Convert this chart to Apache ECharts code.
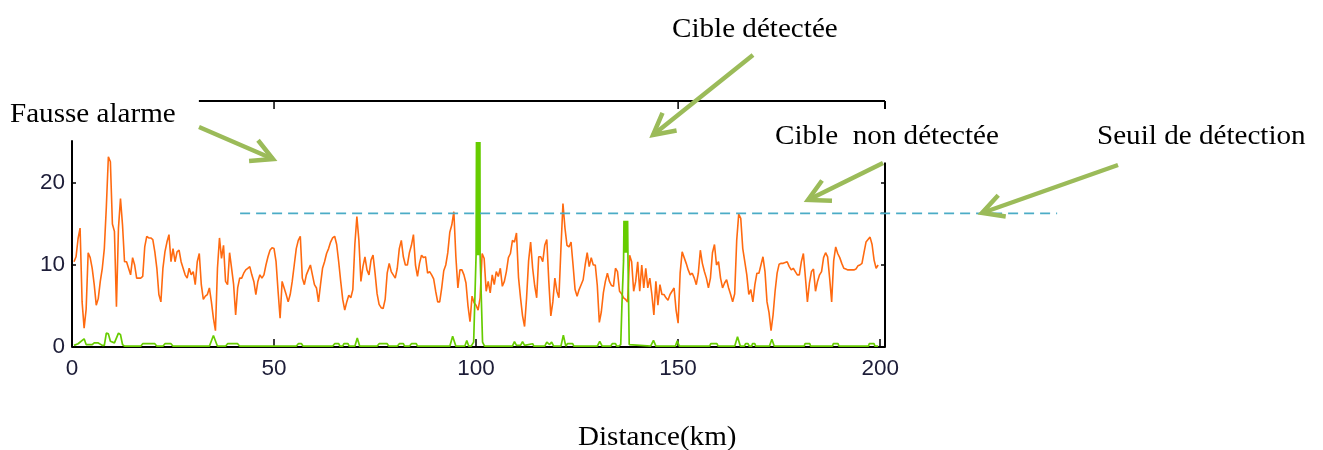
<!DOCTYPE html>
<html><head><meta charset="utf-8">
<script src="https://cdn.jsdelivr.net/npm/echarts@6/dist/echarts.min.js"></script>
<style>html,body{margin:0;padding:0;background:#fff}#c{width:1323px;height:450px}</style>
</head><body><div id="c"></div>
<script>
// ---- data (km, amplitude) ----
const STEP_KM = 0.5;
const sectionStartKm = [0.5, 33, 67, 100.5, 134, 168];
const signal0 = [10.4,11.0,13.2,14.5,5.5,2.3,4.6,11.5,10.9,9.6,7.6,5.1,5.9,8.0,9.6,12.0,17.1,23.2,22.6,15.0,14.1,4.9,14.5,18.1,14.9,10.4,10.4,9.6,8.8,10.9,10.0,8.4,8.4,8.4,8.6,12.2,13.5,13.3,13.3,13.1,11.6,9.6,6.4,5.5,9.6,11.6,12.8,13.7,10.4,12.0,10.4,11.6,11.8,10.4,9.6,8.8,8.4,9.6,8.8,9.2,7.6,10.4,11.4,7.6,5.8];
const signal1 = [6.2,6.4,7.2,5.5,3.5,2.0,9.6,13.3,10.8,12.4,8.0,7.6,11.5,9.6,7.6,3.9,7.2,8.4,8.4,9.0,9.4,9.6,9.8,8.8,8.0,6.4,8.0,8.8,8.4,8.8,10.0,11.0,11.8,12.1,12.0,10.4,6.8,3.5,8.0,7.2,6.4,5.5,6.4,8.0,10.0,12.0,13.0,13.5,8.4,7.6,8.8,9.4,10.0,8.8,7.6,7.2,5.5,7.6,9.6,10.4,11.4,12.0,12.8,13.3,13.5,12.5,10.4,8.0];
const signal2 = [5.8,4.5,5.5,6.3,6.0,7.0,12.5,15.9,13.0,8.0,9.8,11.0,9.4,8.8,10.6,11.2,9.0,6.5,5.2,4.8,4.7,5.8,9.0,10.2,9.2,8.8,8.4,9.6,12.0,13.0,11.0,10.0,10.0,11.5,12.4,13.7,10.0,8.6,10.2,11.2,10.9,11.0,9.0,9.2,8.8,8.3,6.8,5.5,5.5,7.2,9.3,10.0,11.5,14.0,14.9,16.5,11.0,7.2,9.4,9.4,8.8,7.8,5.0,3.1,6.2,5.4,5.1];
const signal3 = [4.5,6.0,11.4,10.8,6.8,8.0,6.6,8.8,7.6,9.2,8.6,9.6,7.4,8.0,9.2,10.9,11.4,13.0,12.8,13.9,8.5,6.0,3.8,2.5,6.0,10.5,12.8,9.6,7.5,6.0,11.0,11.0,10.4,12.4,13.1,8.0,3.8,5.5,8.4,6.8,6.0,12.0,17.5,14.5,12.4,12.2,12.8,10.0,7.0,6.2,7.0,7.6,8.2,10.0,11.5,9.8,10.9,10.0,10.0,7.5,3.0,4.3,6.6,8.0,9.0,8.0,7.5];
const signal4 = [7.4,9.6,9.2,6.8,6.5,6.0,5.8,5.5,11.2,10.4,6.8,8.0,10.4,6.8,10.0,7.2,9.6,7.2,8.4,6.4,3.9,8.0,5.1,7.6,6.4,6.4,6.0,5.7,6.4,6.8,7.2,4.5,2.9,9.0,11.6,10.9,10.2,9.4,8.8,9.0,8.4,7.6,9.0,11.8,10.2,9.2,8.4,7.2,8.4,11.5,12.5,10.0,10.4,8.4,7.2,7.8,8.2,7.2,6.4,5.5,6.5,13.0,16.2,15.7,12.0,10.4,8.8,6.4];
const signal5 = [7.0,5.5,7.6,9.0,9.0,10.0,11.0,9.2,5.5,4.2,2.0,3.9,6.8,9.0,10.1,10.2,10.2,10.3,10.4,9.8,9.4,9.6,9.2,8.8,8.8,10.4,11.4,8.5,5.5,7.8,9.2,9.5,6.8,8.0,8.8,9.2,10.9,11.5,11.0,8.4,5.5,10.5,12.2,11.4,10.9,10.2,9.6,9.5,9.4,9.4,9.4,9.4,9.5,9.9,10.0,10.2,11.5,12.8,13.1,13.4,12.5,10.6,9.6,10.0];
const signalSections = [signal0, signal1, signal2, signal3, signal4, signal5];

// detector output: [km, level]
const detectorOutput = [
 [0.5,0.2],[1.5,0.4],[3.0,1.0],[3.5,0.3],[5.0,0.3],[5.5,0.5],[6.5,0.5],[7.5,0.2],[8.0,0.2],[8.5,1.7],[9.0,1.6],[9.5,0.7],[10.5,0.5],[11.5,1.7],[12.0,1.5],[12.5,0.3],[13.0,0.1],
 [17.0,0.1],[17.5,0.4],[20.5,0.4],[21.0,0.1],[22.5,0.1],[23.0,0.4],[24.5,0.4],[25.0,0.1],
 [34.0,0.1],[35.0,1.4],[36.0,0.1],[38.0,0.1],[38.5,0.4],[41.0,0.4],[41.5,0.1],
 [55.5,0.1],[56.0,0.4],[56.8,0.4],[57.2,0.1],[64.5,0.1],[65.0,0.4],[66.0,0.4],[66.3,0.1],[67.0,0.1],[67.3,0.4],[68.3,0.4],[68.6,0.1],
 [70.0,0.1],[70.6,1.1],[71.2,0.1],[75.5,0.1],[76.0,0.4],[78.0,0.4],[78.4,0.1],[80.5,0.1],[81.0,0.4],[82.0,0.4],[82.3,0.1],[83.5,0.1],[84.0,0.4],[85.2,0.4],[85.5,0.1],
 [93.5,0.1],[94.2,1.3],[95.0,0.1],[97.2,0.1],[97.7,0.8],[98.2,0.1],
 [98.8,0.1],[99.4,0.6],[100.0,11.2],[100.1,25],[100.25,11.2],[100.4,25],[100.55,11.2],[100.7,25],[100.85,11.2],[100.95,25],[101.0,11.2],[101.6,0.6],[102.1,0.1],
 [109.0,0.1],[109.5,0.65],[110.0,0.2],[111.0,0.2],[111.5,0.65],[112.0,0.2],[112.4,0.4],[114.0,0.4],[114.3,0.1],
 [117.0,0.1],[117.5,0.6],[118.2,0.3],[118.7,0.6],[119.2,0.1],[121.0,0.1],[121.6,1.45],[122.2,0.1],[122.6,0.4],[123.9,0.4],[124.2,0.1],
 [130.0,0.1],[130.6,0.7],[131.2,0.1],[133.3,0.1],[133.7,0.4],[134.5,0.4],[134.8,0.1],
 [135.3,0.1],[135.8,0.3],[136.1,5.2],[136.5,10.5],[136.6,15.4],[136.75,11.5],[136.9,15.4],[137.05,11.5],[137.2,15.4],[137.35,11.5],[137.5,15.4],[137.6,10.5],[137.9,0.3],[138.3,0.1],
 [143.2,0.1],[143.9,0.8],[144.5,0.1],[149.3,0.1],[149.8,0.75],[150.3,0.1],[157.8,0.1],[158.1,0.4],[159.6,0.4],[159.9,0.1],
 [164.0,0.1],[164.7,1.25],[165.4,0.1],[166.4,0.1],[166.7,0.4],[167.3,0.4],[167.6,0.1],[168.2,0.1],[168.4,0.4],[169.0,0.4],[169.2,0.1],
 [172.6,0.1],[173.2,0.95],[173.8,0.1],[181.2,0.1],[181.4,0.4],[182.6,0.4],[182.8,0.1],[188.2,0.1],[188.4,0.4],[189.6,0.4],[189.8,0.1],
 [197.1,0.1],[197.3,0.4],[198.5,0.4],[198.7,0.1],[199.5,0.1]
];

const thresholdLevel = 16.3;
const thresholdSpanKm = [41.6, 243.8];
const xTicks = [0, 50, 100, 150, 200];
const yTicks = [0, 10, 20];
const X_END = 201.2, Y_END = 30;

// build signal pairs
const signalData = [];
signalSections.forEach((sec, s) => sec.forEach((v, i) => signalData.push([sectionStartKm[s] + i * STEP_KM, v])));

const chart = echarts.init(document.getElementById('c'));
const tickFont = {color:'#1d1d38', fontSize:22.5, fontFamily:'"Liberation Sans", Arial, sans-serif'};
chart.setOption({
  animation:false,
  grid:{left:72, right:438, top:101, bottom:103},
  xAxis:{type:'value', min:0, max:X_END,
    axisLine:{show:true, lineStyle:{color:'#000', width:2}},
    axisTick:{show:true, inside:true, length:8, customValues:xTicks, lineStyle:{color:'#000', width:1.5}},
    axisLabel:Object.assign({customValues:xTicks, margin:10}, tickFont),
    splitLine:{show:false}},
  yAxis:{type:'value', min:0, max:Y_END,
    axisLine:{show:false},
    axisTick:{show:true, inside:true, length:4, customValues:yTicks, lineStyle:{color:'#000', width:1.5}},
    axisLabel:Object.assign({customValues:yTicks, margin:7}, tickFont),
    splitLine:{show:false}},
  series:[
    {type:'line', data:signalData, symbol:'none', lineStyle:{color:'#ff6a10', width:1.6}, z:3},
    {type:'line', data:detectorOutput, symbol:'none', lineStyle:{color:'#66cc00', width:1.7}, z:4}
  ]
});

// ---- frame, threshold (through the chart's scales) and annotations ----
const P = (x, y) => chart.convertToPixel({gridIndex:0}, [x, y]);
const BLACK = {stroke:'#000', lineWidth:2, fill:null};
function seg(a, b, style) { return {type:'polyline', silent:true, z:20, shape:{points:[a, b]}, style:style}; }
const g = [];
g.push(seg(P(0,0), P(0,25.2), BLACK));                 // left axis
g.push(seg(P(31.4,Y_END), P(X_END,Y_END), BLACK));      // top frame
[50,150].forEach(k => { const a = P(k,Y_END); g.push(seg(a, [a[0], a[1]+8], {stroke:'#000', lineWidth:1.5})); });
{ const a = P(X_END,Y_END); g.push(seg(a, [a[0], a[1]+8], BLACK)); }
g.push(seg(P(X_END,0), P(X_END,22.5), BLACK));          // right axis
[20, 16.3, 10].forEach(v => { const a = P(X_END, v); g.push(seg(a, [a[0]-4, a[1]], {stroke:'#000', lineWidth:1.5})); });
g.push(seg(P(thresholdSpanKm[0], thresholdLevel), P(thresholdSpanKm[1], thresholdLevel),
  {stroke:'#4bacc6', lineWidth:1.8, lineDash:[10,6], fill:null}));

const GREEN = '#9bbb59';
function arrow(x1, y1, x2, y2) {
  const a = Math.atan2(y2-y1, x2-x1), L = 24, th = 28*Math.PI/180;
  const h1 = [x2 - L*Math.cos(a-th), y2 - L*Math.sin(a-th)];
  const h2 = [x2 - L*Math.cos(a+th), y2 - L*Math.sin(a+th)];
  const st = {stroke:GREEN, lineWidth:4.5, fill:null, lineCap:'butt', lineJoin:'miter'};
  g.push({type:'polyline', silent:true, z:21, shape:{points:[[x1,y1],[x2,y2]]}, style:st});
  g.push({type:'polyline', silent:true, z:21, shape:{points:[h1,[x2,y2],h2]}, style:st});
}
arrow(199,127, 273,159);
arrow(753,55, 653,135);
arrow(883,163, 808,200);
arrow(1118,165, 982,213);

function label(txt, x, y) {
  g.push({type:'text', silent:true, z:22, x:x, y:y, scaleX:1.04,
    style:{text:txt, fill:'#000', font:'28px "Liberation Serif", "Times New Roman", serif', textAlign:'left', textVerticalAlign:'middle'}});
}
label('Fausse alarme', 10, 115);
label('Cible détectée', 672, 30);
label('Cible  non détectée', 775, 137);
label('Seuil de détection', 1097, 137);
label('Distance(km)', 578, 438);

chart.setOption({graphic:g});
</script></body></html>
